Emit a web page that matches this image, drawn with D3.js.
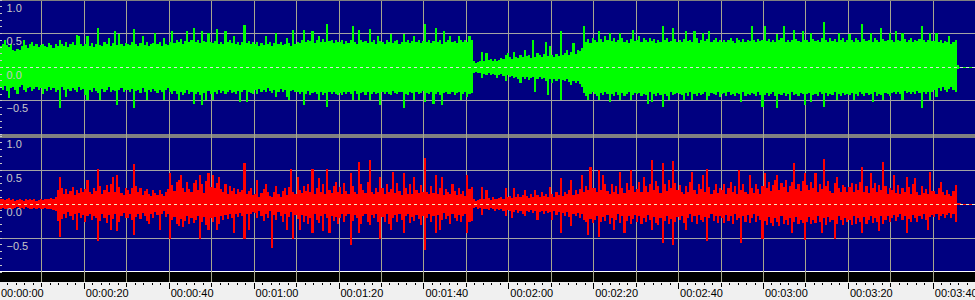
<!DOCTYPE html>
<html>
<head>
<meta charset="utf-8">
<script src="https://cdn.jsdelivr.net/npm/d3@7"></script>
<style>
  body { margin: 0; background: #f0f0f0; }
  svg { display: block; }
  text { font-family: 'Liberation Sans', Arial, sans-serif; font-size: 11px; }
</style>
</head>
<body>
<div id="chartbox"></div>
<script>

// peak values per 0.5 s column, in hundredths of full scale
const step = 0.5

const greenMax = [
  31,34,40,33,30,35,26,24,27,25,32,40,33,29,34,38,31,35,30,33,
  35,32,30,36,33,29,34,31,41,35,32,37,30,34,38,33,48,46,34,31,
  34,46,32,36,30,35,59,33,31,37,34,44,32,36,54,33,49,35,31,36,
  35,33,37,57,34,31,36,46,33,38,32,35,36,51,34,37,32,44,35,33,
  38,54,36,40,37,42,35,39,54,38,41,59,37,40,36,54,39,38,51,37,
  36,39,57,35,38,34,54,37,40,36,46,35,38,33,37,63,36,39,34,37,
  34,37,32,36,33,46,35,38,31,36,51,34,37,33,35,44,36,32,56,35,
  38,36,40,56,37,41,39,54,36,40,46,38,42,37,64,39,41,36,40,38,
  37,40,35,39,36,41,61,38,35,56,40,37,39,36,57,38,40,35,46,39,
  38,35,40,37,49,36,39,41,35,38,49,37,40,36,39,46,38,41,36,39,
  64,38,41,36,39,59,37,40,35,54,38,41,46,37,39,36,46,40,38,41,
  38,46,40,9,7,8,10,23,9,21,11,13,10,12,9,11,14,12,18,21,
  15,13,23,16,14,18,15,26,17,19,14,40,16,21,18,15,20,37,17,31,
  18,16,20,17,54,19,21,26,18,22,36,20,26,24,28,61,38,42,36,44,
  40,37,54,42,38,46,41,51,39,43,37,40,51,44,38,41,36,42,56,39,
  41,46,38,43,40,37,44,39,42,36,41,38,61,40,43,37,39,59,42,38,
  40,37,42,54,39,41,38,54,43,36,40,51,39,42,54,38,41,44,37,40,
  38,41,37,40,43,39,36,44,40,38,42,37,41,39,62,40,37,42,39,41,
  61,39,42,38,41,37,49,40,43,61,38,41,37,40,56,42,39,38,54,41,
  40,38,51,42,39,41,37,43,67,40,38,44,39,42,37,51,40,43,38,41,
  49,41,38,43,40,37,65,42,39,41,51,38,43,40,37,59,42,39,41,51,
  40,38,54,41,39,51,42,37,40,43,38,41,39,42,61,40,37,41,51,39,
  39,51,37,40,36,39,38,46,35,38,41,3,1,0,0,0,0,0,0,0
]

const greenMin = [
  -30,-33,-28,-35,-46,-31,-29,-34,-39,-30,-27,-33,-36,-31,-29,-35,-32,-30,-34,-31,
  -39,-32,-35,-30,-34,-31,-36,-33,-61,-30,-34,-44,-32,-35,-31,-33,-36,-30,-34,-32,
  -41,-49,-33,-36,-31,-35,-38,-49,-32,-36,-34,-30,-37,-33,-35,-56,-34,-31,-36,-33,
  -34,-37,-32,-60,-35,-33,-38,-31,-36,-49,-34,-37,-32,-35,-38,-33,-36,-49,-34,-31,
  -37,-40,-35,-39,-49,-36,-41,-38,-34,-40,-37,-54,-39,-36,-41,-56,-38,-49,-35,-40,
  -49,-36,-39,-34,-38,-35,-40,-37,-33,-38,-36,-39,-35,-51,-37,-34,-51,-36,-38,-39,
  -34,-39,-32,-36,-33,-37,-31,-35,-38,-33,-44,-36,-32,-37,-34,-44,-49,-35,-33,-36,
  -37,-40,-36,-56,-39,-35,-41,-38,-36,-40,-49,-37,-41,-38,-59,-36,-40,-37,-39,-41,
  -38,-41,-36,-40,-37,-39,-49,-35,-40,-49,-38,-36,-41,-37,-49,-39,-36,-40,-38,-56,
  -37,-40,-36,-39,-41,-35,-38,-40,-37,-36,-61,-39,-41,-37,-38,-49,-36,-40,-38,-35,
  -51,-38,-40,-36,-54,-39,-37,-41,-56,-38,-36,-40,-39,-37,-41,-38,-36,-49,-40,-37,
  -44,-40,-38,-8,-7,-9,-8,-16,-10,-12,-9,-11,-10,-12,-16,-11,-10,-13,-20,-12,
  -14,-13,-16,-15,-17,-24,-14,-18,-15,-19,-16,-14,-36,-17,-15,-18,-16,-20,-41,-17,
  -24,-18,-20,-17,-49,-19,-21,-18,-22,-26,-20,-23,-21,-25,-29,-38,-42,-49,-40,-37,
  -39,-42,-49,-38,-41,-37,-40,-51,-39,-43,-37,-41,-49,-38,-42,-40,-36,-49,-41,-38,
  -40,-38,-43,-39,-41,-54,-37,-51,-40,-42,-38,-41,-59,-39,-43,-49,-37,-41,-40,-38,
  -39,-41,-49,-38,-42,-37,-49,-40,-43,-38,-41,-39,-37,-49,-42,-38,-40,-41,-37,-44,
  -40,-38,-42,-37,-41,-39,-43,-38,-40,-51,-37,-42,-39,-41,-38,-40,-43,-37,-41,-59,
  -41,-38,-42,-40,-37,-43,-60,-39,-41,-38,-42,-40,-49,-37,-41,-39,-42,-38,-40,-56,
  -40,-38,-51,-41,-39,-42,-37,-40,-59,-38,-42,-39,-41,-37,-49,-40,-43,-38,-41,-39,
  -41,-38,-49,-40,-42,-37,-39,-43,-38,-41,-40,-51,-37,-42,-39,-41,-49,-38,-40,-42,
  -38,-36,-40,-37,-39,-49,-35,-38,-36,-40,-37,-39,-35,-38,-61,-36,-39,-37,-49,-36,
  -34,-44,-31,-35,-30,-33,-36,-32,-29,-34,-36,-3,-1,0,0,0,0,0,0,0
]

const redMax = [
  7,8,6,7,9,6,7,5,6,7,6,5,7,6,8,6,7,5,6,7,
  6,7,8,7,9,8,10,20,40,24,15,22,14,19,25,13,21,16,23,18,
  22,35,17,14,24,19,52,26,15,21,28,17,30,40,18,42,25,16,13,24,
  20,14,23,59,26,17,24,13,19,22,15,12,21,16,13,20,15,12,18,22,
  45,28,19,32,36,43,24,17,33,22,18,31,35,20,43,29,16,34,45,25,
  43,24,31,40,22,18,30,15,26,19,24,14,22,17,21,61,14,19,23,13,
  14,35,11,16,22,30,18,12,10,17,27,15,11,19,24,13,25,52,18,15,
  40,21,16,27,19,30,17,52,15,23,38,18,29,14,52,20,16,26,33,18,
  25,15,31,19,14,45,27,17,15,62,30,21,16,33,65,18,14,24,17,40,
  23,14,29,17,22,47,16,31,19,13,45,24,15,30,14,40,21,16,28,18,
  67,18,14,27,16,43,15,23,40,13,22,17,14,29,19,13,24,15,19,12,
  43,22,25,7,5,6,8,25,7,21,9,6,10,8,7,9,11,8,23,10,
  12,9,23,11,14,10,13,21,12,9,15,11,21,13,10,18,12,14,11,25,
  15,11,18,13,38,12,17,14,21,35,13,20,15,22,42,18,26,20,55,24,
  24,17,50,21,43,29,19,14,30,18,27,15,47,23,16,31,20,50,26,17,
  22,33,17,40,26,18,30,65,21,34,27,16,60,29,19,35,23,63,31,20,
  28,18,14,26,17,33,47,21,15,30,22,43,17,52,25,14,21,29,16,24,
  20,29,15,24,33,17,26,14,50,21,30,18,15,43,24,16,29,22,14,26,
  45,24,33,19,28,36,43,21,31,25,35,18,27,32,60,22,30,19,34,45,
  28,20,33,24,45,18,30,22,66,27,34,19,16,31,40,23,17,28,25,18,
  25,31,17,29,21,33,55,18,27,16,45,23,31,17,28,20,62,26,15,24,
  21,43,16,28,14,23,18,40,25,15,30,38,17,13,26,16,22,15,47,19,
  19,14,23,33,17,13,21,15,12,19,28,2,1,0,0,0,0,0,0,0
]

const redMin = [
  -7,-6,-8,-7,-6,-8,-7,-6,-5,-7,-6,-7,-5,-6,-7,-8,-6,-7,-6,-7,
  -7,-6,-8,-7,-8,-9,-10,-25,-49,-22,-14,-20,-12,-18,-24,-15,-38,-13,-21,-16,
  -27,-18,-14,-24,-17,-21,-55,-25,-15,-20,-28,-16,-38,-22,-15,-40,-26,-17,-13,-21,
  -20,-14,-24,-46,-19,-15,-22,-13,-17,-25,-30,-14,-20,-12,-16,-38,-15,-11,-19,-14,
  -51,-24,-19,-29,-33,-22,-34,-25,-17,-30,-20,-28,-24,-18,-51,-26,-19,-31,-38,-21,
  -27,-19,-38,-29,-18,-24,-16,-22,-15,-20,-43,-14,-19,-13,-17,-51,-15,-38,-14,-12,
  -13,-20,-10,-17,-25,-14,-21,-11,-65,-16,-23,-12,-18,-26,-14,-38,-19,-12,-51,-16,
  -22,-38,-16,-26,-18,-29,-20,-43,-15,-24,-28,-17,-40,-14,-21,-43,-17,-25,-19,-29,
  -21,-15,-27,-18,-14,-60,-25,-16,-20,-43,-30,-18,-14,-26,-31,-16,-21,-15,-27,-51,
  -19,-26,-15,-29,-38,-20,-16,-27,-14,-23,-43,-18,-15,-28,-19,-25,-16,-22,-31,-17,
  -68,-20,-15,-27,-18,-43,-16,-38,-24,-13,-22,-17,-29,-14,-20,-25,-16,-27,-18,-14,
  -43,-26,-25,-6,-5,-7,-6,-16,-8,-7,-9,-6,-8,-10,-7,-9,-8,-11,-18,-9,
  -10,-21,-12,-9,-13,-11,-14,-18,-10,-12,-9,-13,-11,-23,-12,-10,-14,-11,-13,-12,
  -23,-11,-16,-12,-43,-13,-17,-12,-19,-33,-14,-18,-13,-21,-15,-24,-27,-45,-22,-28,
  -24,-17,-48,-27,-19,-25,-16,-29,-21,-38,-23,-15,-28,-18,-43,-25,-17,-30,-22,-16,
  -26,-18,-30,-21,-27,-16,-23,-38,-19,-28,-31,-20,-58,-25,-17,-29,-22,-60,-27,-19,
  -24,-17,-28,-38,-20,-15,-26,-18,-30,-16,-23,-27,-19,-55,-21,-15,-25,-18,-28,-17,
  -21,-28,-16,-25,-18,-30,-15,-23,-20,-58,-17,-26,-16,-28,-21,-15,-26,-18,-23,-51,
  -25,-31,-19,-28,-33,-21,-27,-32,-18,-29,-24,-31,-20,-43,-26,-19,-30,-23,-28,-53,
  -27,-19,-30,-23,-28,-17,-26,-43,-21,-31,-19,-27,-24,-51,-29,-18,-24,-31,-20,-27,
  -24,-31,-18,-29,-21,-27,-43,-19,-30,-23,-17,-28,-21,-26,-40,-18,-29,-24,-17,-27,
  -21,-16,-25,-19,-15,-24,-17,-43,-22,-27,-16,-20,-26,-17,-22,-15,-23,-38,-19,-16,
  -19,-15,-23,-18,-14,-21,-16,-13,-20,-15,-26,-2,-1,0,0,0,0,0,0,0
]

const ampLabels = [1, 0.5, 0, -0.5]
const ampGrid = [0.5, -0.5]
const timeTicks = [0, 20, 40, 60, 80, 100, 120, 140, 160, 180, 200, 220]
const timeLabels = ['00:00:00', '00:00:20', '00:00:40', '00:01:00', '00:01:20', '00:01:40',
  '00:02:00', '00:02:20', '00:02:40', '00:03:00', '00:03:20', '00:03:40']

const W = 975, H = 300
const navy = '#000080'

const svg = d3.select('#chartbox')
  .append('svg')
  .attr('width', W)
  .attr('height', H)

const x = d3.scaleLinear().domain([0, 220]).range([-0.6, 933.3])
const px = v => Math.floor(v) + 0.5

const panels = [
  { max: greenMax, min: greenMin, color: '#00ff00', dash: '#dcdcdc',
    y: d3.scaleLinear().domain([-1, 1]).range([134.6, 0]), top: 1, bottom: 134 },
  { max: redMax, min: redMin, color: '#ff0000', dash: '#f4ecc0',
    y: d3.scaleLinear().domain([-1, 1]).range([272, 136]), top: 138, bottom: 271 }
]

// frame
svg.append('rect').attr('width', W).attr('height', H).attr('fill', '#f0f0f0')
svg.append('rect').attr('y', 0).attr('width', W).attr('height', 138).attr('fill', '#808080')
panels.forEach(p => {
  svg.append('rect')
    .attr('y', p.top)
    .attr('width', W)
    .attr('height', p.bottom - p.top)
    .attr('fill', navy)
})
svg.append('rect').attr('y', 271).attr('width', W).attr('height', 1).attr('fill', '#ffffff')
svg.append('rect').attr('y', 272).attr('width', W).attr('height', 10).attr('fill', '#000000')

// vertical grid, every 10 s
svg.append('g')
  .selectAll('line')
  .data(d3.range(10, 230, 10))
  .enter()
  .append('line')
  .attr('x1', d => px(x(d)))
  .attr('x2', d => px(x(d)))
  .attr('y1', 1)
  .attr('y2', 282)
  .attr('stroke', '#a6a68e')

panels.forEach(p => {
  const g = svg.append('g')

  g.selectAll('line.h')
    .data(ampGrid)
    .enter()
    .append('line')
    .attr('class', 'h')
    .attr('x1', 0)
    .attr('x2', W)
    .attr('y1', d => px(p.y(d)))
    .attr('y2', d => px(p.y(d)))
    .attr('stroke', '#a4a4a4')

  g.append('g')
    .attr('shape-rendering', 'crispEdges')
    .selectAll('rect')
    .data(p.max.map((v, i) => ({ t: i * step, hi: v / 100, lo: p.min[i] / 100 })))
    .enter()
    .append('rect')
    .attr('x', d => x(d.t))
    .attr('width', d => x(d.t + step) - x(d.t))
    .attr('y', d => Math.min(p.y(d.hi), Math.floor(p.y(0))))
    .attr('height', d => Math.max(p.y(d.lo) - p.y(d.hi), 1))
    .attr('fill', p.color)

  g.append('line')
    .attr('x1', 0)
    .attr('x2', W)
    .attr('y1', px(p.y(0)))
    .attr('y2', px(p.y(0)))
    .attr('stroke', p.dash)
    .attr('stroke-dasharray', '3,3')

  g.selectAll('line.tick')
    .data(d3.range(-10, 11).map(d => d / 10))
    .enter()
    .append('line')
    .attr('class', 'tick')
    .attr('x1', 0)
    .attr('x2', 2)
    .attr('y1', d => px(p.y(d)))
    .attr('y2', d => px(p.y(d)))
    .attr('stroke', '#c8c8c8')

  g.selectAll('text')
    .data(ampLabels)
    .enter()
    .append('text')
    .attr('x', 6.5)
    .attr('y', d => p.y(d) + 11.5)
    .attr('fill', '#c8c8c8')
    .text(d => d3.format('.1f')(d))
})

// time ruler
const ruler = svg.append('g').attr('shape-rendering', 'crispEdges')

ruler.selectAll('line')
  .data(d3.range(2, 230, 2))
  .enter()
  .append('line')
  .attr('x1', d => px(x(d)))
  .attr('x2', d => px(x(d)))
  .attr('y1', 283)
  .attr('y2', d => d % 20 === 0 ? 289 : d % 10 === 0 ? 287 : 285)
  .attr('stroke', '#000')

ruler.selectAll('text')
  .data(timeTicks)
  .enter()
  .append('text')
  .attr('x', d => x(d) + 1.5)
  .attr('y', 297)
  .attr('fill', '#000')
  .text((d, i) => timeLabels[i])

</script>
</body>
</html>
